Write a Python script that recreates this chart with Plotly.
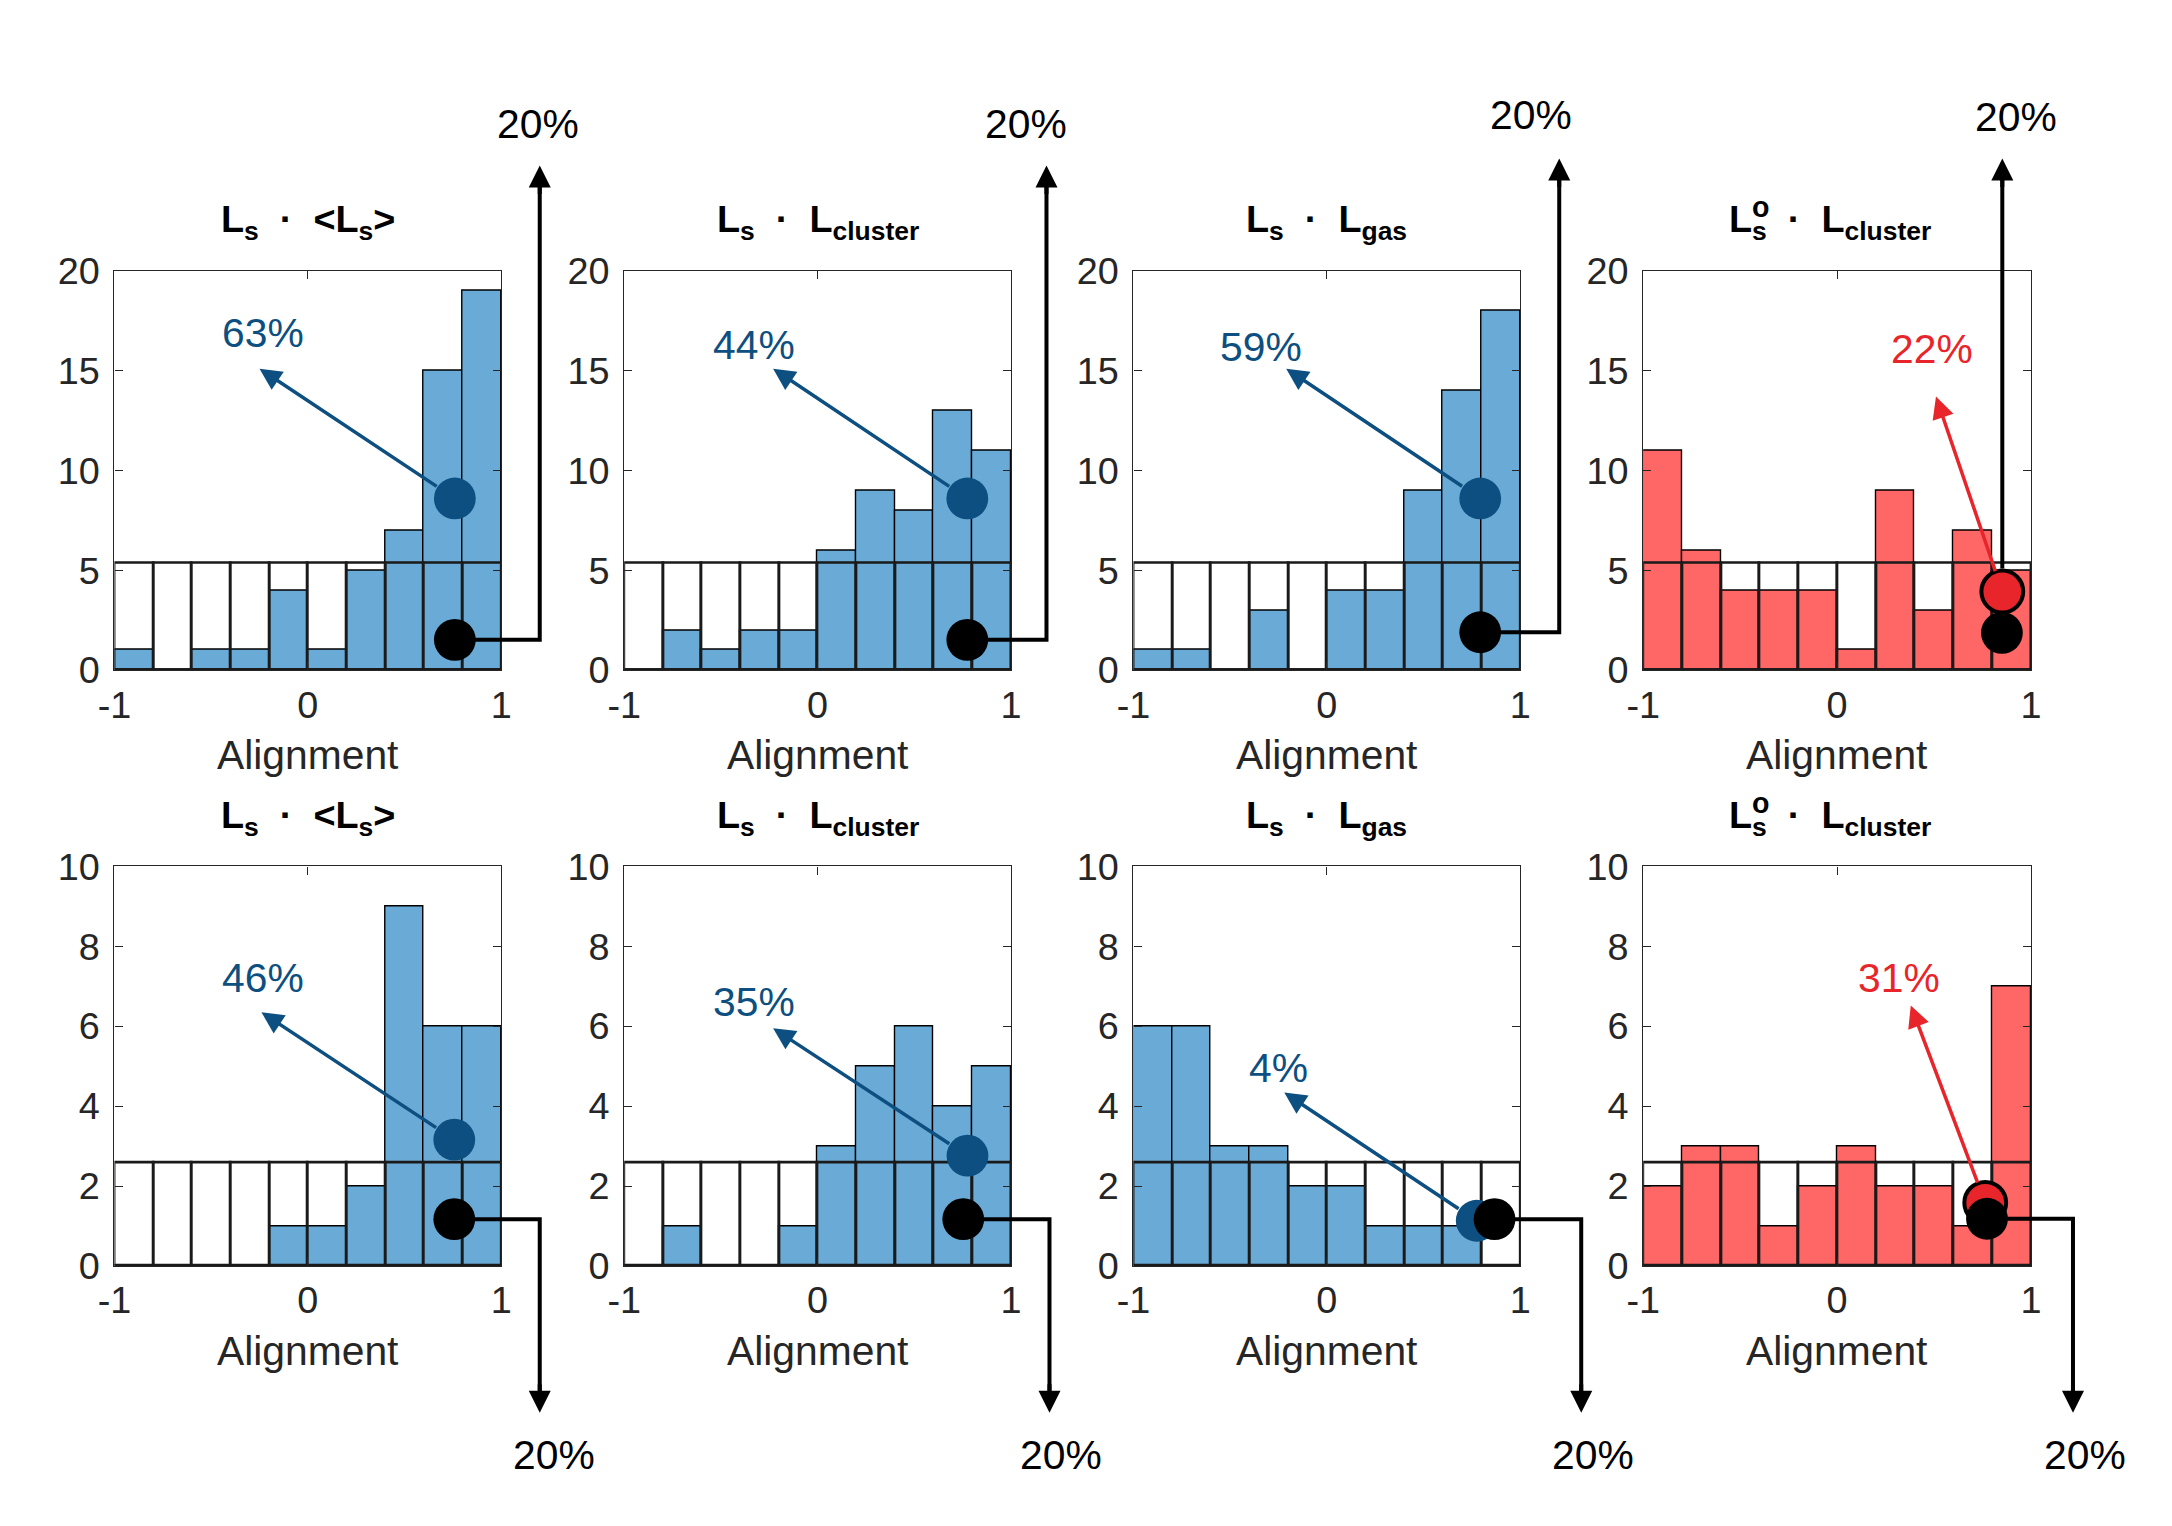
import plotly.graph_objects as go

W, H = 2172, 1526
FONT = "Liberation Sans, Arial, Helvetica, sans-serif"

# histogram bins (alignment from -1 to 1, 10 bins)
bin_centers = [-0.9, -0.7, -0.5, -0.3, -0.1, 0.1, 0.3, 0.5, 0.7, 0.9]
bin_width = 0.2

# counts per panel: top row then bottom row
counts_top = [
    [1, 0, 1, 1, 4, 1, 5, 7, 15, 19],
    [0, 2, 1, 2, 2, 6, 9, 8, 13, 11],
    [1, 1, 0, 3, 0, 4, 4, 9, 14, 18],
    [11, 6, 4, 4, 4, 1, 9, 3, 7, 5],
]
counts_bottom = [
    [0, 0, 0, 0, 1, 1, 2, 9, 6, 6],
    [0, 1, 0, 0, 1, 3, 5, 6, 4, 5],
    [6, 6, 3, 3, 2, 2, 1, 1, 1, 0],
    [2, 3, 3, 1, 2, 3, 2, 2, 1, 7],
]
uniform_level = [5.4, 2.6]
y_max = [20, 10]
y_ticks = [[0, 5, 10, 15, 20], [0, 2, 4, 6, 8, 10]]

titles = [
    "<b>L<sub>s</sub>  ·  &lt;L<sub>s</sub>&gt;</b>",
    "<b>L<sub>s</sub>  ·  L<sub>cluster</sub></b>",
    "<b>L<sub>s</sub>  ·  L<sub>gas</sub></b>",
    "<b>L<sub>s</sub>  ·  L<sub>cluster</sub></b>",
]
red_panel = [False, False, False, True]

# percentage labels and their positions (data units)
pct_top = ["63%", "44%", "59%", "22%"]
pct_bottom = ["46%", "35%", "4%", "31%"]
pct_pos_top = [(-0.23, 16.9), (-0.33, 16.3), (-0.34, 16.2), (0.49, 16.1)]
pct_pos_bottom = [(-0.23, 7.2), (-0.33, 6.6), (-0.25, 4.95), (0.32, 7.2)]

# arrow tips (data units)
tip_top = [(-0.25, 15.1), (-0.23, 15.1), (-0.21, 15.1), (0.51, 13.7)]
tip_bottom = [(-0.24, 6.35), (-0.23, 5.95), (-0.22, 4.34), (0.38, 6.52)]

# coloured dot (measured fraction) and black dot (20% reference)
dot_top = [(0.76, 8.6), (0.774, 8.6), (0.793, 8.6), (0.852, 3.94)]
dot_bottom = [(0.757, 3.16), (0.775, 2.76), (0.775, 1.13), (0.764, 1.58)]
ref_top = [(0.76, 1.52), (0.774, 1.52), (0.793, 1.9), (0.85, 1.87)]
ref_bottom = [(0.757, 1.17), (0.753, 1.17), (0.867, 1.17), (0.773, 1.18)]

BLUE = "#6AAAD6"
DARK_BLUE = "#0C4F80"
RED = "#FF6666"
DARK_RED = "#E8252A"
AX = "#262626"

# panel boxes in pixels of the final picture
col_px = [(113.5, 500.5), (623.5, 1010.5), (1133, 1520), (1643, 2031)]
row_px = [(269.5, 669.5), (866, 1266)]
# elbow x and arrow tip y of the black "20%" arrows
elbow_x = [[539, 1046, 1559, None], [539, 1049, 1581, 2073]]
arrow_tip_y = [[164, 164, 157, 157], [1413, 1413, 1413, 1413]]
ref_lbl_px = [[(537, 123), (1026, 123), (1531, 114), (2016, 116)],
              [(553, 1455), (1061, 1455), (1593, 1455), (2085, 1455)]]

# the page is photographed slightly inset/shrunk; map picture pixels to paper
OFF_X, OFF_Y = 16.0, 19.4
SX, SY = 0.9876, 0.9738
K = 1.0 / 0.98  # size compensation for fonts and markers


def px(x):
    return (x - OFF_X) / SX / W


def py(y):
    return 1 - (y - OFF_Y) / SY / H


def to_px(r, c, x, y):
    x0, x1 = col_px[c]
    yt, yb = row_px[r]
    return x0 + (x + 1) / 2 * (x1 - x0), yb - y / y_max[r] * (yb - yt)


def fs(v):
    return round(v * K, 1)


fig = go.Figure()
annotations = []
shapes = []

for r in range(2):
    counts = counts_top if r == 0 else counts_bottom
    pcts = pct_top if r == 0 else pct_bottom
    pct_pos = pct_pos_top if r == 0 else pct_pos_bottom
    tips = tip_top if r == 0 else tip_bottom
    dots = dot_top if r == 0 else dot_bottom
    refs = ref_top if r == 0 else ref_bottom
    for c in range(4):
        k = r * 4 + c + 1
        xa = "x" if k == 1 else f"x{k}"
        ya = "y" if k == 1 else f"y{k}"
        fill = RED if red_panel[c] else BLUE
        dark = DARK_RED if red_panel[c] else DARK_BLUE

        fig.add_trace(go.Bar(x=bin_centers, y=counts[c], width=bin_width,
                             marker=dict(color=fill, line=dict(color="black", width=1.4)),
                             xaxis=xa, yaxis=ya, showlegend=False))
        fig.add_trace(go.Bar(x=bin_centers, y=[uniform_level[r]] * len(bin_centers), width=bin_width,
                             marker=dict(color="rgba(0,0,0,0)", line=dict(color="#1a1a1a", width=2.6)),
                             xaxis=xa, yaxis=ya, showlegend=False))
        line = dict(color="black", width=4) if red_panel[c] else dict(width=0)
        fig.add_trace(go.Scatter(x=[dots[c][0]], y=[dots[c][1]], mode="markers",
                                 marker=dict(size=fs(41), color=dark, line=line),
                                 xaxis=xa, yaxis=ya, showlegend=False, cliponaxis=False))
        fig.add_trace(go.Scatter(x=[refs[c][0]], y=[refs[c][1]], mode="markers",
                                 marker=dict(size=fs(41), color="black"),
                                 xaxis=xa, yaxis=ya, showlegend=False, cliponaxis=False))

        x0, x1 = col_px[c]
        yt, yb = row_px[r]
        fig.layout[f"xaxis{k}" if k > 1 else "xaxis"] = dict(
            domain=[px(x0), px(x1)], anchor=ya, range=[-1, 1],
            tickvals=[-1, 0, 1], ticktext=["-1", "0", "1"],
            ticks="inside", ticklen=8, tickwidth=1.3, tickcolor=AX,
            showline=True, linecolor=AX, linewidth=1.3, mirror="ticks",
            showgrid=False, zeroline=False, ticklabelstandoff=1,
            tickfont=dict(size=fs(37), color=AX, family=FONT))
        fig.layout[f"yaxis{k}" if k > 1 else "yaxis"] = dict(
            domain=[py(yb), py(yt)], anchor=xa, range=[0, y_max[r]],
            tickvals=y_ticks[r], ticks="inside", ticklen=8, tickwidth=1.3, tickcolor=AX,
            showline=True, linecolor=AX, linewidth=1.3, mirror="ticks",
            showgrid=False, zeroline=False, ticklabelstandoff=6,
            tickfont=dict(size=fs(37), color=AX, family=FONT))

        # coloured arrow from dot to label
        annotations.append(dict(xref=xa, yref=ya, axref=xa, ayref=ya,
                                x=tips[c][0], y=tips[c][1], ax=dots[c][0], ay=dots[c][1],
                                text="", showarrow=True, arrowhead=2, arrowsize=1.25,
                                arrowwidth=3.5, arrowcolor=dark, startstandoff=20))
        annotations.append(dict(xref=xa, yref=ya, x=pct_pos[c][0], y=pct_pos[c][1],
                                text=pcts[c], showarrow=False,
                                font=dict(size=fs(40), color=dark, family=FONT)))

        # titles
        tcx = (x0 + x1) / 2
        ty = yt - 49
        if c == 3:
            annotations.append(dict(xref="paper", yref="paper", x=px(1727), y=py(ty),
                                    xanchor="left", yanchor="middle", text=titles[c],
                                    showarrow=False, font=dict(size=fs(37), color="black", family=FONT)))
            annotations.append(dict(xref="paper", yref="paper", x=px(1760), y=py(yt - 64),
                                    xanchor="center", yanchor="middle", text="<b>o</b>",
                                    showarrow=False, font=dict(size=fs(28), color="black", family=FONT)))
        else:
            annotations.append(dict(xref="paper", yref="paper", x=px(tcx), y=py(ty),
                                    xanchor="center", yanchor="middle", text=titles[c],
                                    showarrow=False, font=dict(size=fs(37), color="black", family=FONT)))
        annotations.append(dict(xref="paper", yref="paper", x=px(tcx), y=py(yb + 85),
                                xanchor="center", yanchor="middle", text="Alignment",
                                showarrow=False, font=dict(size=fs(40), color=AX, family=FONT)))

        # black connector to the 20% arrow
        bx, by = to_px(r, c, refs[c][0], refs[c][1])
        tip_y = arrow_tip_y[r][c]
        if elbow_x[r][c] is None:
            dx, dy = to_px(r, c, dots[c][0], dots[c][1])
            ex = dx
            path = f"M {px(dx)},{py(dy - 23)} V {py(tip_y + 10)}"
        else:
            ex = elbow_x[r][c]
            tip_end = tip_y + 10 if r == 0 else tip_y - 10
            path = f"M {px(bx)},{py(by)} H {px(ex)} V {py(tip_end)}"
        shapes.append(dict(type="path", xref="paper", yref="paper", path=path,
                           line=dict(color="black", width=4)))
        annotations.append(dict(xref="paper", yref="paper", x=px(ex), y=py(tip_y),
                                ax=0, ay=30 if r == 0 else -30, text="", showarrow=True,
                                arrowhead=2, arrowsize=1.1, arrowwidth=4, arrowcolor="black"))
        lx, ly = ref_lbl_px[r][c]
        annotations.append(dict(xref="paper", yref="paper", x=px(lx), y=py(ly),
                                xanchor="center", yanchor="middle", text="20%",
                                showarrow=False, font=dict(size=fs(40), color="black", family=FONT)))

fig.update_layout(
    width=W, height=H,
    margin=dict(l=0, r=0, t=0, b=0),
    paper_bgcolor="white", plot_bgcolor="white",
    barmode="overlay", bargap=0,
    annotations=annotations, shapes=shapes,
    font=dict(family=FONT),
)

fig.write_html("out.html", config={"displayModeBar": False},
               post_script="document.body.style.margin='0';")
